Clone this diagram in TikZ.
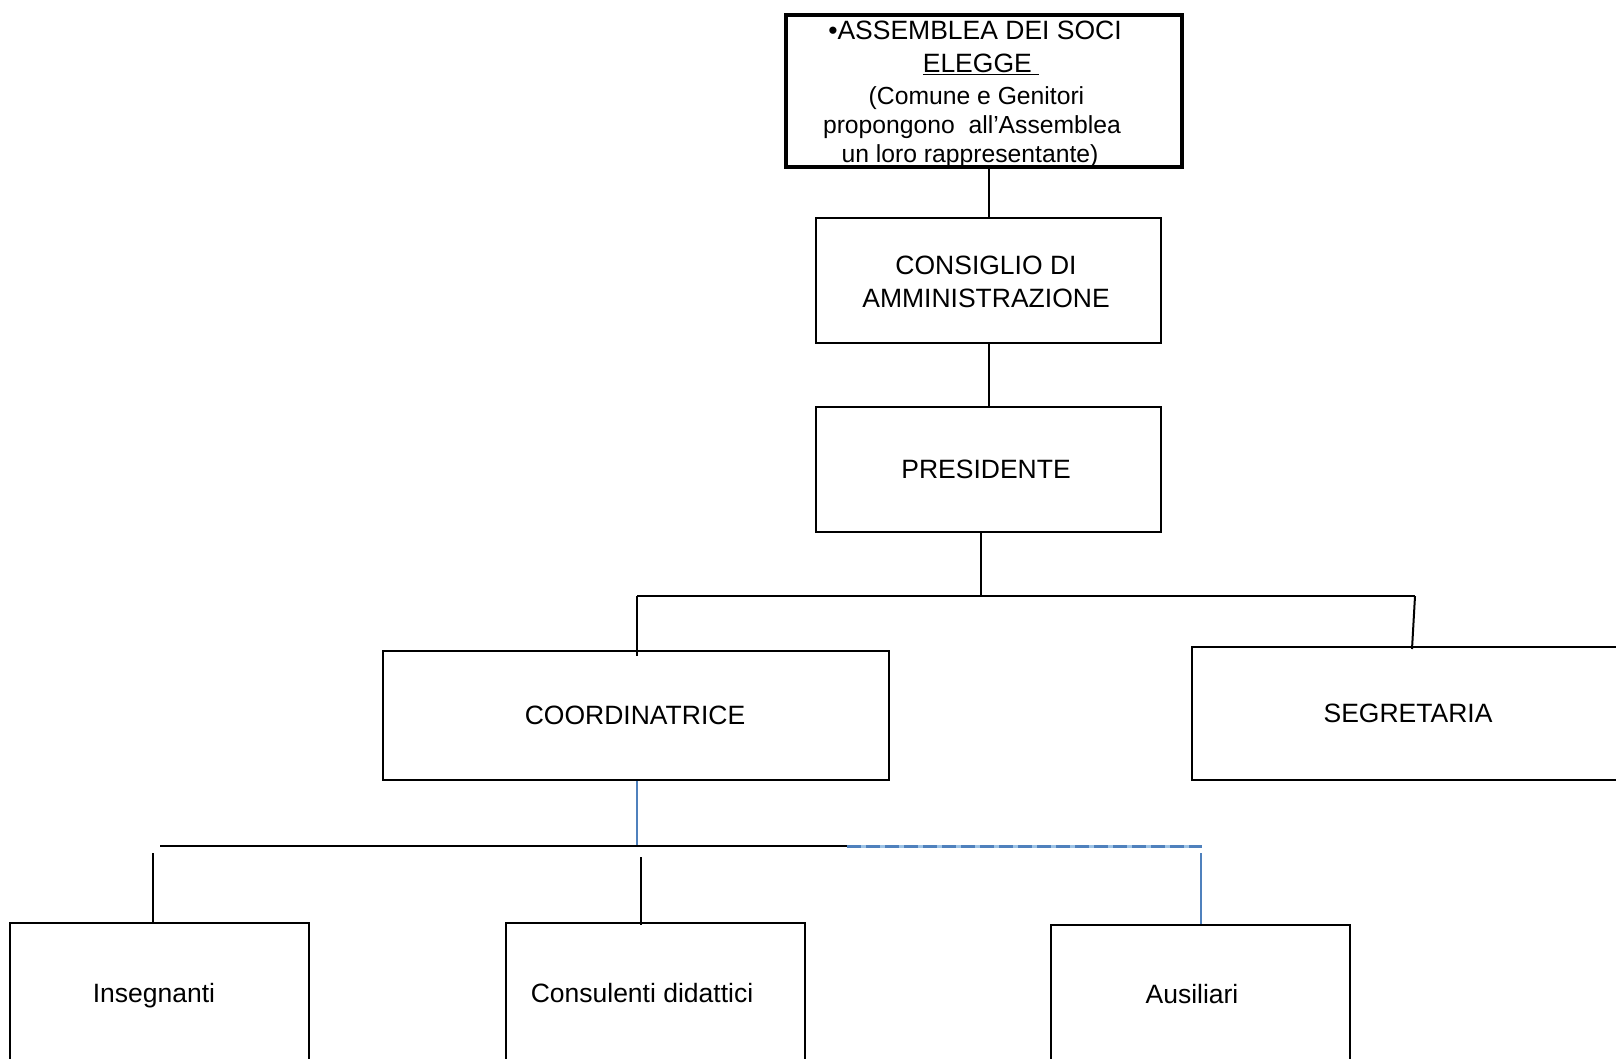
\documentclass[tikz,border=0pt]{standalone}
\usepackage{fontspec}
\setmainfont{Liberation Sans}
\definecolor{offblue}{HTML}{4F81BD}
\definecolor{paleblue}{HTML}{9DC3E6}
\newcommand\diagfont{\fontsize{26.5}{33}\selectfont}
\newcommand\smallerfont{\fontsize{24.7}{30}\selectfont}
\begin{document}
\begin{tikzpicture}[x=1pt,y=-1pt,
  box/.style={draw=black, line width=2pt, rectangle, inner sep=0pt},
  txt/.style={inner sep=0pt, font=\diagfont, align=center},
  stxt/.style={inner sep=0pt, font=\smallerfont, align=center},
  conn/.style={draw=black, line width=2pt},
  bconn/.style={draw=offblue, line width=2pt}]
\useasboundingbox (0,0) rectangle (1616,1059);
\clip (0,0) rectangle (1616,1059);
\fill[white] (0,0) rectangle (1616,1059);

% top box
\node[box, line width=4.5pt, minimum width=396, minimum height=152] (assem) at (984,91) {};
\node[txt, anchor=base] (l1) at (975,39.5) {•ASSEMBLEA DEI SOCI};
\node[txt, anchor=base] (l2) at (981,72.5) {\underline{ELEGGE\ }};
\node[stxt, anchor=base] (l3) at (976.5,105) {(Comune e Genitori};
\node[stxt, anchor=base] (l4) at (972,134) {propongono\ \ all’Assemblea};
\node[stxt, anchor=base] (l5) at (970,163) {un loro rappresentante)};

% second level
\node[box, minimum width=345, minimum height=125] (cons) at (988.5,280.5) {};
\node[txt] (constxt) at (986,281.5) {CONSIGLIO DI\\AMMINISTRAZIONE};
\node[box, minimum width=345, minimum height=125] (pres) at (988.5,469.5) {};
\node[txt] (prestxt) at (986,469) {PRESIDENTE};

% third level
\node[box, minimum width=506, minimum height=129] (coord) at (636,715.5) {};
\node[txt] (coordtxt) at (635,715) {COORDINATRICE};
\node[box, minimum width=448, minimum height=133] (seg) at (1416,713.5) {};
\node[txt] (segtxt) at (1408,713) {SEGRETARIA};

% bottom level
\node[box, minimum width=299, minimum height=160] (ins) at (159.5,1003) {};
\node[txt] (instxt) at (154,995.5) {Insegnanti};
\node[box, minimum width=299, minimum height=160] (consd) at (655.5,1003) {};
\node[txt] (consdtxt) at (642,993.5) {Consulenti didattici};
\node[box, minimum width=299, minimum height=160] (aus) at (1200.5,1005) {};
\node[txt] (austxt) at (1192,994.5) {Ausiliari};

% connectors
\draw[conn] (cons.north |- assem.south) -- (cons.north);
\draw[conn] (cons.south) -- (pres.north);
\coordinate (busA) at (981,596);
\coordinate (busL) at (637,596);
\coordinate (busR) at (1415,596);
\draw[conn] (pres.south -| busA) -- (busA);
\draw[conn] (busL) -- (busR);
\draw[conn] (busL) -- ([yshift=-6pt]busL |- coord.north);
\draw[conn] (busR) -- ([xshift=-3pt,yshift=-3pt]busR |- seg.north);

\coordinate (busM) at (637,846);
\coordinate (busB) at (160,846);
\coordinate (busJ) at (847,846);
\coordinate (busE) at (1202,846);
\draw[bconn] (coord.south -| busM) -- (busM);
\draw[conn] (busB) -- (busJ);
\draw[draw=paleblue, line width=3pt] (busJ) -- (busE);
\draw[draw=offblue, line width=3pt, dash pattern=on 14pt off 5pt] (busJ) -- (busE);

\coordinate (d1) at (153,853);
\coordinate (d2) at (641,857);
\coordinate (d3) at (1201,853);
\draw[conn] (d1) -- (d1 |- ins.north);
\draw[conn] (d2) -- ([yshift=-3pt]d2 |- consd.north);
\draw[bconn] (d3) -- (d3 |- aus.north);
\end{tikzpicture}
\end{document}
